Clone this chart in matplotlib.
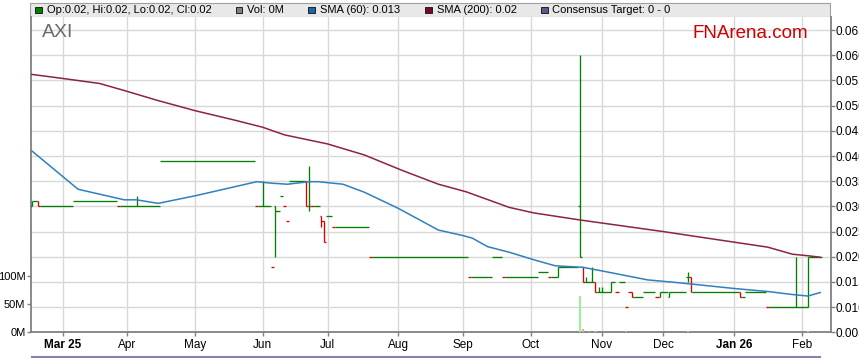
import numpy as np
import pandas as pd
import matplotlib
matplotlib.use('Agg')
import matplotlib.pyplot as plt
from matplotlib.patches import Rectangle
from matplotlib.lines import Line2D

plt.rcParams['font.family'] = ['Liberation Sans', 'DejaVu Sans']

# trading days shown on the chart
first_day, last_day = "2025-02-17", "2026-02-10"

# flat days (open = high = low = close): first date, last date, price
runs = [
    ("2025-02-18", "2025-02-18", 0.031),
    ("2025-02-20", "2025-03-06", 0.030),
    ("2025-03-07", "2025-03-26", 0.031),
    ("2025-03-27", "2025-04-03", 0.030),
    ("2025-04-07", "2025-04-15", 0.030),
    ("2025-04-16", "2025-05-28", 0.039),
    ("2025-05-29", "2025-05-30", 0.030),
    ("2025-06-03", "2025-06-04", 0.030),
    ("2025-06-05", "2025-06-05", 0.018),
    ("2025-06-09", "2025-06-09", 0.029),
    ("2025-06-10", "2025-06-10", 0.032),
    ("2025-06-11", "2025-06-11", 0.030),
    ("2025-06-12", "2025-06-12", 0.027),
    ("2025-06-13", "2025-06-19", 0.035),
    ("2025-06-24", "2025-06-26", 0.030),
    ("2025-07-01", "2025-07-02", 0.028),
    ("2025-07-03", "2025-07-18", 0.026),
    ("2025-07-21", "2025-09-02", 0.020),
    ("2025-09-03", "2025-09-12", 0.016),
    ("2025-09-15", "2025-09-17", 0.020),
    ("2025-09-18", "2025-10-03", 0.016),
    ("2025-10-06", "2025-10-08", 0.017),
    ("2025-10-09", "2025-10-13", 0.016),
    ("2025-10-15", "2025-10-22", 0.018),
    ("2025-10-28", "2025-10-28", 0.015),
    ("2025-11-04", "2025-11-05", 0.013),
    ("2025-11-07", "2025-11-07", 0.015),
    ("2025-11-10", "2025-11-10", 0.013),
    ("2025-11-11", "2025-11-12", 0.015),
    ("2025-11-13", "2025-11-13", 0.010),
    ("2025-11-14", "2025-11-14", 0.013),
    ("2025-11-18", "2025-11-20", 0.012),
    ("2025-11-21", "2025-11-26", 0.013),
    ("2025-11-27", "2025-11-27", 0.012),
    ("2025-12-01", "2025-12-02", 0.013),
    ("2025-12-04", "2025-12-10", 0.013),
    ("2025-12-15", "2026-01-02", 0.013),
    ("2026-01-06", "2026-01-06", 0.012),
    ("2026-01-07", "2026-01-15", 0.013),
    ("2026-01-16", "2026-01-28", 0.010),
    ("2026-01-30", "2026-02-03", 0.010),
    ("2026-02-05", "2026-02-10", 0.020),
]

# days with a range: date, open, high, low, close
bars = [
    ("2025-02-17", 0.030, 0.031, 0.030, 0.031),
    ("2025-02-19", 0.031, 0.031, 0.030, 0.030),
    ("2025-04-04", 0.030, 0.032, 0.030, 0.030),
    ("2025-06-02", 0.030, 0.035, 0.030, 0.030),
    ("2025-06-06", 0.030, 0.030, 0.020, 0.029),
    ("2025-06-20", 0.035, 0.035, 0.030, 0.030),
    ("2025-06-23", 0.030, 0.038, 0.029, 0.030),
    ("2025-06-27", 0.028, 0.028, 0.026, 0.027),
    ("2025-06-30", 0.027, 0.027, 0.023, 0.023),
    ("2025-10-14", 0.016, 0.018, 0.016, 0.018),
    ("2025-10-23", 0.030, 0.060, 0.020, 0.020),
    ("2025-10-24", 0.018, 0.018, 0.015, 0.015),
    ("2025-10-27", 0.015, 0.016, 0.015, 0.015),
    ("2025-10-29", 0.015, 0.018, 0.015, 0.015),
    ("2025-10-30", 0.015, 0.015, 0.013, 0.013),
    ("2025-10-31", 0.013, 0.014, 0.013, 0.013),
    ("2025-11-03", 0.013, 0.014, 0.013, 0.013),
    ("2025-11-06", 0.013, 0.015, 0.013, 0.015),
    ("2025-11-17", 0.013, 0.013, 0.012, 0.012),
    ("2025-11-28", 0.012, 0.013, 0.012, 0.013),
    ("2025-12-03", 0.012, 0.013, 0.012, 0.013),
    ("2025-12-11", 0.016, 0.017, 0.015, 0.016),
    ("2025-12-12", 0.016, 0.016, 0.013, 0.013),
    ("2026-01-05", 0.013, 0.013, 0.012, 0.012),
    ("2026-01-29", 0.010, 0.020, 0.010, 0.010),
    ("2026-02-04", 0.010, 0.020, 0.010, 0.020),
]

# days drawn in red by the source
down_days = ["2025-02-19", "2025-03-27", "2025-05-29", "2025-06-05", "2025-06-11",
             "2025-06-12", "2025-06-20", "2025-06-24", "2025-06-27", "2025-06-30",
             "2025-07-03", "2025-07-21", "2025-09-03", "2025-09-18", "2025-10-09",
             "2025-10-24", "2025-10-30", "2025-11-10", "2025-11-13", "2025-11-14",
             "2025-11-17", "2025-11-27", "2025-12-12", "2026-01-05", "2026-01-16"]

# volume (millions)
vol_dates = ["2025-10-23", "2025-10-24", "2025-10-27", "2025-10-28", "2025-10-30",
             "2025-11-03", "2025-11-13", "2025-12-11", "2026-02-04", "2026-02-05"]
vol_values = [64, 6, 1, 1.5, 2.5, 1, 2, 2, 2, 1]

# moving averages
sma200_dates = ["2025-02-17", "2025-03-03", "2025-03-19", "2025-03-31", "2025-04-15",
                "2025-05-01", "2025-05-20", "2025-06-02", "2025-06-11", "2025-07-01",
                "2025-07-17", "2025-08-04", "2025-08-20", "2025-09-02", "2025-09-22",
                "2025-10-02", "2025-10-23", "2025-12-01", "2025-12-17", "2026-01-01",
                "2026-01-16", "2026-01-28", "2026-02-04", "2026-02-10"]
sma200_values = [0.0562, 0.0554, 0.0544, 0.0530, 0.0510, 0.0490, 0.0471, 0.0457,
                 0.0442, 0.0424, 0.0402, 0.0372, 0.0344, 0.0329, 0.0298, 0.0287,
                 0.0273, 0.0250, 0.0239, 0.0229, 0.0219, 0.0205, 0.0202, 0.0199]
sma60_dates = ["2025-02-17", "2025-03-10", "2025-03-31", "2025-04-04", "2025-04-15",
               "2025-05-01", "2025-05-29", "2025-06-05", "2025-06-12", "2025-06-23",
               "2025-06-26", "2025-07-08", "2025-07-17", "2025-08-01", "2025-08-20",
               "2025-09-01", "2025-09-04", "2025-09-11", "2025-09-22", "2025-10-02",
               "2025-10-13", "2025-10-24", "2025-11-03", "2025-11-24", "2025-12-05",
               "2025-12-17", "2026-01-01", "2026-01-16", "2026-01-28", "2026-02-04",
               "2026-02-10"]
sma60_values = [0.0410, 0.0334, 0.0313, 0.0313, 0.0306, 0.0321, 0.0349, 0.0346,
                0.0344, 0.0349, 0.0349, 0.0344, 0.0328, 0.0296, 0.0253, 0.0242,
                0.0237, 0.0220, 0.0209, 0.0194, 0.0182, 0.0179, 0.0172, 0.0154,
                0.0149, 0.0144, 0.0137, 0.0131, 0.0125, 0.0122, 0.0129]

month_ticks = ["2025-03-03", "2025-04-01", "2025-05-01", "2025-06-02", "2025-07-01",
               "2025-08-01", "2025-09-01", "2025-10-01", "2025-11-03", "2025-12-01",
               "2026-01-01", "2026-02-02"]
month_labels = ["Mar 25", "Apr", "May", "Jun", "Jul", "Aug", "Sep", "Oct", "Nov",
                "Dec", "Jan 26", "Feb"]
year_labels = ["Mar 25", "Jan 26"]

price_ticks = [0.005, 0.010, 0.015, 0.020, 0.025, 0.030, 0.035, 0.040, 0.045,
               0.050, 0.055, 0.060, 0.065]
vol_ticks = [0, 50, 100]

# ---------------------------------------------------------------------------
days = pd.bdate_range(first_day, last_day)
pos = {d.strftime("%Y-%m-%d"): i for i, d in enumerate(days)}

ohlc = {}
for a, b, p in runs:
    for i in range(pos[a], pos[b] + 1):
        ohlc[i] = (p, p, p, p)
for d, o, h, l, c in bars:
    ohlc[pos[d]] = (o, h, l, c)
down = set(pos[d] for d in down_days)

GREEN, RED = '#008000', '#dd0000'
W, H = 859, 363
fig = plt.figure(figsize=(W / 100, H / 100), dpi=100)
ax = fig.add_axes([31 / W, 1 - 332.3 / H, 800 / W, (332.3 - 17) / H])
vax = ax.twinx()
ax.set_zorder(1)
vax.set_zorder(2)
vax.patch.set_visible(False)

grid_c = '#d8d8d8'
for t in price_ticks:
    ax.axhline(t, color=grid_c, lw=1, zorder=0)
for t in month_ticks:
    ax.axvline(pos[t], color=grid_c, lw=1, zorder=0)

# OHLC: open/close ticks joined into continuous horizontal pieces
segs = []   # [x0, x1, y, colour]
for i in sorted(ohlc):
    o, h, l, c = ohlc[i]
    col = RED if i in down else GREEN
    if h > l:
        ax.vlines(i, l, h, color=col, lw=0.95, zorder=3)
    for x0, x1, y in ((i - 0.5, i, o), (i, i + 0.5, c)):
        if segs and segs[-1][1] == x0 and segs[-1][2] == y and segs[-1][3] == col:
            segs[-1][1] = x1
        else:
            segs.append([x0, x1, y, col])
for x0, x1, y, col in segs:
    ax.plot([x0, x1], [y, y], color=col, lw=0.95, solid_capstyle='butt', zorder=3)

# moving averages
ax.plot([pos[d] for d in sma60_dates], sma60_values, color='#2f80bd', lw=1.1, zorder=4)
ax.plot([pos[d] for d in sma200_dates], sma200_values, color='#8c2248', lw=1.1, zorder=4)

# volume
closes = {i: ohlc[i][3] for i in ohlc}
vcols = []
for d in vol_dates:
    i = pos[d]
    if i in down:
        vcols.append('#f2a0a0')
    elif closes[i] > closes.get(i - 1, closes[i]):
        vcols.append('#98f098')
    else:
        vcols.append('#a8a8a8')
vax.bar([pos[d] for d in vol_dates], vol_values, width=0.7, color=vcols, zorder=2)

ax.set_xlim(-0.3, 259.5)
ax.set_ylim(0.005, 0.0676)
vax.set_ylim(0, 559)

ax.yaxis.tick_right()
ax.set_yticks(price_ticks)
ax.set_yticklabels(["%.3f" % t for t in price_ticks])
vax.yaxis.tick_left()
vax.set_yticks(vol_ticks)
vax.set_yticklabels(["%dM" % v for v in vol_ticks])

ax.set_xticks([pos[t] for t in month_ticks])
ax.set_xticklabels(month_labels)
for lab in ax.get_xticklabels():
    if lab.get_text() in year_labels:
        lab.set_fontweight('bold')

ax.tick_params(axis='y', right=True, left=False, length=3, width=1, color='#808080',
               labelsize=8.5, pad=0.5)
vax.tick_params(axis='y', left=True, right=False, length=3, width=1, color='#808080',
                labelsize=8, pad=1)
ax.tick_params(axis='x', length=3, width=1, color='#808080', labelsize=8.5, pad=2)

for a in (ax, vax):
    for s in a.spines.values():
        s.set_visible(False)
for s in ('left', 'right', 'bottom'):
    ax.spines[s].set_visible(True)
    ax.spines[s].set_color('#808080')
    ax.spines[s].set_linewidth(1.3)

# header strip
fig.patches.append(Rectangle((30 / W, 1 - 17 / H), 800 / W, 14 / H,
                             transform=fig.transFigure, facecolor='#e8e8e8',
                             edgecolor='#a0a0a0', lw=0.8, zorder=0))
legend = [(35, '#008000', 47, "Op:0.02, Hi:0.02, Lo:0.02, Cl:0.02"),
          (235.7, '#808080', 246.7, "Vol: 0M"),
          (308.3, '#1a66a6', 320, "SMA (60): 0.013"),
          (425, '#800030', 436.7, "SMA (200): 0.02"),
          (541, '#5c5c8c', 551.7, "Consensus Target: 0 - 0")]
for sx, sc, tx, txt in legend:
    fig.patches.append(Rectangle((sx / W, 1 - 13.3 / H), 6.5 / W, 6.5 / H,
                                 transform=fig.transFigure, facecolor=sc,
                                 edgecolor='#202020', lw=0.7))
    fig.text(tx / W, 1 - 10.3 / H, txt, fontsize=8, va='center', ha='left')

fig.text(42 / W, 1 - 32.5 / H, "AXI", fontsize=14, color='#6a6a6a', va='center', ha='left')
fig.text(693 / W, 1 - 33 / H, "FNArena.com", fontsize=13.5, color='#cc0000',
         va='center', ha='left')

fig.lines.append(Line2D([32 / W, 820 / W], [1 - 357.3 / H] * 2, transform=fig.transFigure,
                        color='#8484b4', lw=1.5))

fig.savefig("out.png", dpi=100)
